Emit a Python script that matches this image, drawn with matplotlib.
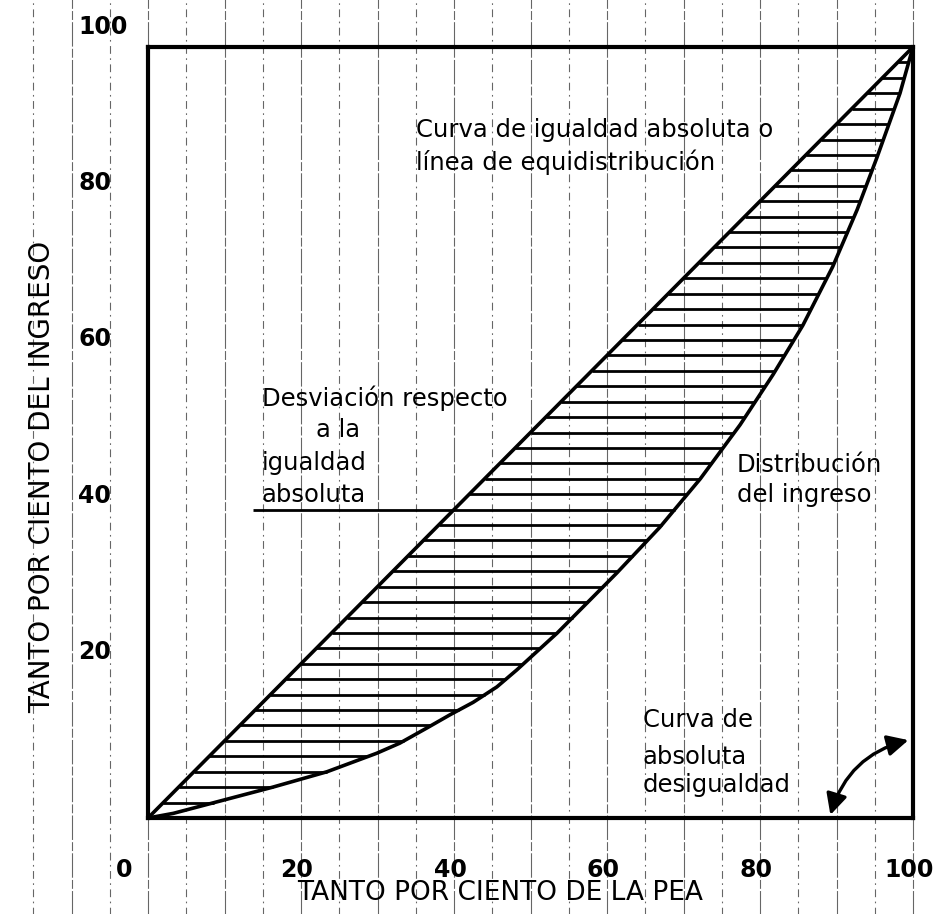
import numpy as np
import matplotlib
matplotlib.use("Agg")
import matplotlib.pyplot as plt
from matplotlib.transforms import ScaledTranslation
from matplotlib.patches import FancyArrowPatch

# ---- data ----
pea_pct = [0, 3.3, 9.8, 16.3, 23.4, 29.9, 32.9, 36.5, 39.5, 42.5, 45.6, 48.2,
           53.5, 59.1, 61.3, 66.9, 72.2, 77.4, 81.7, 85.6, 89.5, 92.7, 95.3, 98.3, 100]
ingreso_pct = [0, 0.6, 2.3, 4.0, 6.0, 8.4, 9.7, 11.7, 13.4, 15.0, 17.0, 19.2,
               24.0, 29.6, 31.8, 37.7, 44.0, 51.0, 57.5, 63.9, 71.5, 78.9, 85.7, 94.0, 100]
equality_x = [0, 100]
equality_y = [0, 100]
x_ticks = [0, 20, 40, 60, 80, 100]
y_ticks = [20, 40, 60, 80, 100]
hatch_levels = list(range(2, 100, 2))
grid_x = list(range(-15, 101, 5))

plt.rcParams['font.family'] = ['DejaVu Sans']

W, H = 947, 914
fig = plt.figure(figsize=(W / 100, H / 100), dpi=100)
L, R, T, B = 148, 913, 47, 818
ax = fig.add_axes([L / W, 1 - B / H, (R - L) / W, (B - T) / H])
ax.set_xlim(0, 100)
ax.set_ylim(0, 100)
ax.set_xticks([])
ax.set_yticks([])
for s in ax.spines.values():
    s.set_linewidth(3.0)
    s.set_zorder(5)


def off(dx, dy):
    return ax.transData + ScaledTranslation(dx / 100, dy / 100, fig.dpi_scale_trans)


# vertical broken grid lines spanning the whole sheet
for gx in grid_x:
    if gx % 10 == 0:
        ls = (0, (22, 2, 8, 2))
    else:
        ls = (0, (7, 4, 1.5, 4))
    ax.plot([gx, gx], [-13, 107], color='black', lw=0.8, ls=ls, alpha=0.6,
            clip_on=False, zorder=1)

# equality line and Lorenz curve
ax.plot(equality_x, equality_y, color='black', lw=2.6, zorder=4, solid_capstyle='round')
ax.plot(pea_pct, ingreso_pct, color='black', lw=2.6, zorder=4, solid_joinstyle='round')

# horizontal hatching between the two curves
for lev in hatch_levels:
    xc = np.interp(lev, ingreso_pct, pea_pct)
    x0 = 13.7 if lev == 40 else lev
    ax.plot([x0, xc], [lev, lev], color='black', lw=2.0, zorder=3, solid_capstyle='butt')

# arrow for "absolute inequality" curve
arr = FancyArrowPatch((89.2, 0.4), (99.4, 10.1),
                      arrowstyle='<|-|>,head_length=0.9,head_width=0.45',
                      connectionstyle='arc3,rad=-0.28', mutation_scale=14,
                      lw=2.4, color='black', shrinkA=0, shrinkB=0, zorder=6,
                      clip_on=False)
ax.add_patch(arr)

fs = 17.5
txt = dict(fontsize=fs, ha='left', va='center', zorder=7)
ax.text(35.0, 89.2, 'Curva de igualdad absoluta o', **txt)
ax.text(35.0, 85.1, 'línea de equidistribución', **txt)
ax.text(14.9, 54.5, 'Desviación respecto', **txt)
ax.text(22.0, 50.3, 'a la', **txt)
ax.text(14.9, 46.0, 'igualdad', **txt)
ax.text(14.9, 41.9, 'absoluta', **txt)
ax.text(77.0, 45.8, 'Distribución', **txt)
ax.text(77.0, 41.9, 'del ingreso', **txt)
ax.text(64.7, 12.7, 'Curva de', **txt)
ax.text(64.7, 7.9, 'absoluta', **txt)
ax.text(64.7, 4.3, 'desigualdad', **txt)

# tick labels
for v in x_ticks:
    dx = -24 if v == 0 else -4
    ax.text(v, 0, str(v), transform=off(dx, -52), ha='center', va='center',
            fontsize=17, fontweight='bold')
for v in y_ticks:
    ax.text(0, v, str(v), transform=off(-70, 10 + 0.1 * v), ha='left', va='center',
            fontsize=17, fontweight='bold')

# axis titles
ax.text(46, 0, 'TANTO POR CIENTO DE LA PEA', transform=off(0, -75),
        ha='center', va='center', fontsize=19)
ax.text(0, 44.2, 'TANTO POR CIENTO DEL INGRESO', transform=off(-106, 0),
        ha='center', va='center', rotation=90, fontsize=20)

fig.savefig('out.png', dpi=100)
